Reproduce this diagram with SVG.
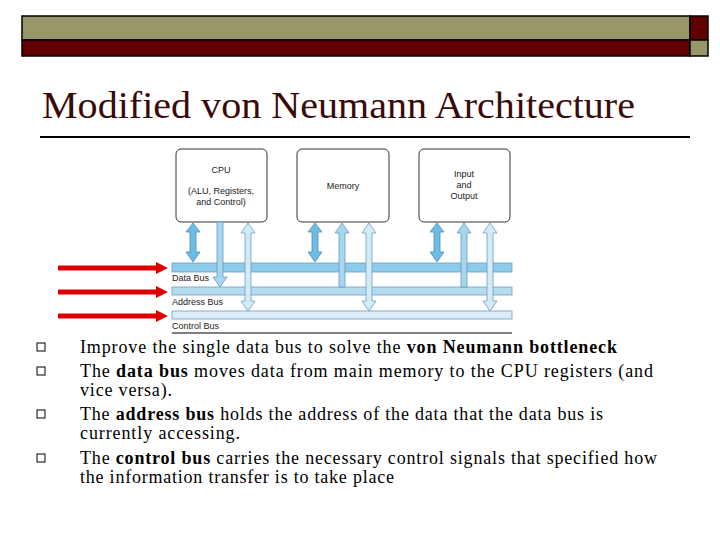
<svg xmlns="http://www.w3.org/2000/svg" width="720" height="540" viewBox="0 0 720 540">
<defs>
<style>
.box{fill:#fff;stroke:#333;stroke-width:1}
.lbl{font-family:"Liberation Sans",Arial,sans-serif;font-size:9px;fill:#222}
.bus{stroke:#6a9ec0;stroke-width:0.8}
.txt{font-family:"Liberation Serif","Times New Roman",serif;font-size:18px;fill:#000}
.bul{fill:#fff;stroke:#000;stroke-width:1}
.dk{fill:#6cbde4;stroke:#4a90b8;stroke-width:0.8}
.lt{fill:#d3eaf7;stroke:#6a9ec0;stroke-width:0.8}
.md{fill:#a9d6ef;stroke:#5f9cc2;stroke-width:0.8}
.red{stroke:#e00000;stroke-width:5}
</style>
<marker id="rh" markerWidth="2.4" markerHeight="2.4" refX="0.4" refY="1.2" orient="auto" markerUnits="strokeWidth"><path d="M0,0 L2.4,1.2 L0,2.4 z" fill="#e00000"/></marker>
</defs>
<rect x="0" y="0" width="720" height="540" fill="#fff"/>
<g id="header">
<rect x="22" y="16" width="668" height="24" fill="#99966a" stroke="#000" stroke-width="1.5"/>
<rect x="22" y="40" width="668" height="16" fill="#600000" stroke="#000" stroke-width="1.5"/>
<rect x="690" y="16" width="18" height="24" fill="#600000" stroke="#000" stroke-width="1.5"/>
<rect x="690" y="40" width="18" height="16" fill="#99966a" stroke="#000" stroke-width="1.5"/>
</g>
<text x="42" y="118" font-family="'Liberation Serif','Times New Roman',serif" font-size="37" fill="#3a0a0a" textLength="593" lengthAdjust="spacingAndGlyphs">Modified von Neumann Architecture</text>
<line x1="40" y1="137" x2="690" y2="137" stroke="#000" stroke-width="2"/>
<g id="buses">
<rect x="172" y="263" width="340" height="9" fill="#8ccbea" class="bus"/>
<rect x="172" y="287" width="340" height="8" fill="#b4dbf0" class="bus"/>
<rect x="172" y="311" width="340" height="8" fill="#dcedf7" class="bus"/>
<text class="lbl" x="172" y="281">Data Bus</text>
<text class="lbl" x="172" y="305">Address Bus</text>
<text class="lbl" x="172" y="329">Control Bus</text>
<line x1="172" y1="333" x2="512" y2="333" stroke="#000" stroke-width="1.2"/>
</g>
<g id="cpu"><rect class="box" x="176" y="149" width="91" height="73" rx="5"/>
<text class="lbl" x="221" y="173" text-anchor="middle">CPU</text>
<text class="lbl" x="221" y="194" text-anchor="middle">(ALU, Registers,</text>
<text class="lbl" x="221" y="205" text-anchor="middle">and Control)</text></g>
<g id="memory"><rect class="box" x="297" y="149" width="92" height="73" rx="5"/>
<text class="lbl" x="343" y="189" text-anchor="middle">Memory</text></g>
<g id="io"><rect class="box" x="419" y="149" width="91" height="73" rx="5"/>
<text class="lbl" x="464" y="177" text-anchor="middle">Input</text>
<text class="lbl" x="464" y="188" text-anchor="middle">and</text>
<text class="lbl" x="464" y="199" text-anchor="middle">Output</text></g>
<g id="connectors">
<path class="dk" d="M193,223 l-7,9 h4 v20 h-4 l7,10 l7,-10 h-4 v-20 h4 z"/>
<path class="dk" d="M315,223 l-7,9 h4 v20 h-4 l7,10 l7,-10 h-4 v-20 h4 z"/>
<path class="dk" d="M437,223 l-7,9 h4 v20 h-4 l7,10 l7,-10 h-4 v-20 h4 z"/>
<path class="md" d="M217,222 h6 v55 h4 l-7,10 l-7,-10 h4 z"/>
<path class="md" d="M342,223 l-7,10 h4 v54 h6 v-54 h4 z"/>
<path class="md" d="M464,223 l-7,10 h4 v54 h6 v-54 h4 z"/>
<path class="lt" d="M248,223 l-7,10 h4 v68 h-4 l7,10 l7,-10 h-4 v-68 h4 z"/>
<path class="lt" d="M369,223 l-7,10 h4 v68 h-4 l7,10 l7,-10 h-4 v-68 h4 z"/>
<path class="lt" d="M490,223 l-7,10 h4 v68 h-4 l7,10 l7,-10 h-4 v-68 h4 z"/>
<line class="red" x1="58" y1="268" x2="158" y2="268" marker-end="url(#rh)"/>
<line class="red" x1="58" y1="292" x2="158" y2="292" marker-end="url(#rh)"/>
<line class="red" x1="58" y1="316" x2="158" y2="316" marker-end="url(#rh)"/>
</g>
<g id="bullets">
<rect class="bul" x="37" y="343" width="8" height="8"/>
<rect class="bul" x="37" y="367" width="8" height="8"/>
<rect class="bul" x="37" y="410" width="8" height="8"/>
<rect class="bul" x="37" y="454" width="8" height="8"/>
<text class="txt" x="80" y="353" textLength="537">Improve the single data bus to solve the <tspan font-weight="bold">von Neumann bottleneck</tspan></text>
<text class="txt" x="80" y="377" textLength="573">The <tspan font-weight="bold">data bus</tspan> moves data from main memory to the CPU registers (and</text>
<text class="txt" x="80" y="396" textLength="92">vice versa).</text>
<text class="txt" x="80" y="420" textLength="523">The <tspan font-weight="bold">address bus</tspan> holds the address of the data that the data bus is</text>
<text class="txt" x="80" y="439" textLength="160">currently accessing.</text>
<text class="txt" x="80" y="464" textLength="577">The <tspan font-weight="bold">control bus</tspan> carries the necessary control signals that specified how</text>
<text class="txt" x="80" y="483" textLength="314">the information transfer is to take place</text>
</g>
</svg>
